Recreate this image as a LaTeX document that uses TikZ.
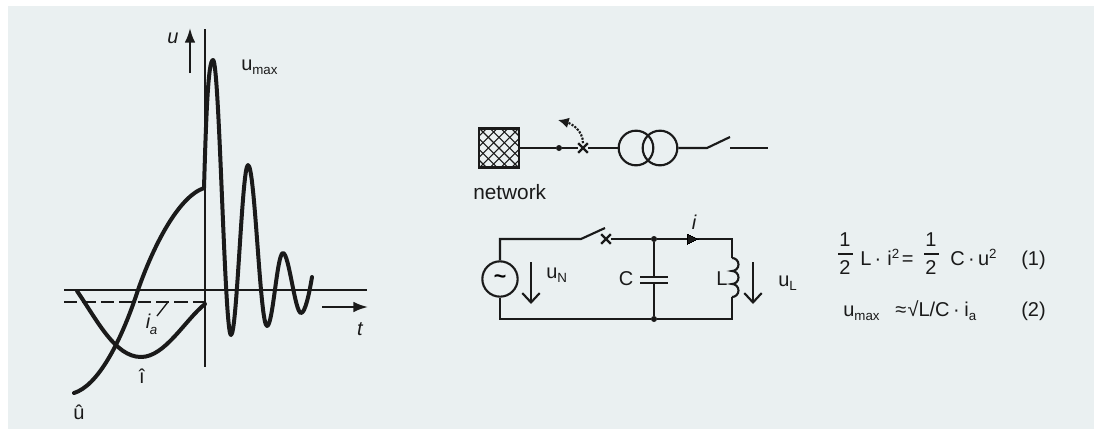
\documentclass[tikz,border=0pt]{standalone}
\usepackage{fontspec}
\setmainfont{Liberation Sans}
\usepackage{xcolor}
\usetikzlibrary{arrows.meta,shapes.misc}
\definecolor{panelbg}{HTML}{EAF0F1}
\definecolor{inkc}{HTML}{1A1A1A}
\newcommand{\subtxt}[2][-3pt]{\raisebox{#1}{\fontsize{10}{12}\selectfont #2}}
\newcommand{\suptxt}{\raisebox{5pt}{\fontsize{10}{12}\selectfont 2}}
\tikzset{wire/.style={line width=1.6pt,inkc},
  curve/.style={line width=3pt,inkc,line cap=round,line join=round},
  txt/.style={inner sep=0pt,text=inkc,font=\fontsize{15}{17}\selectfont},
  itxt/.style={inner sep=0pt,text=inkc,font=\fontsize{15}{17}\selectfont\itshape},
  dotn/.style={circle,fill=inkc,inner sep=0pt,minimum size=4.5pt},
  ring/.style={circle,draw=inkc,line width=1.6pt,inner sep=0pt,minimum size=26pt},
  hatchbox/.style={rectangle,draw=inkc,line width=1.9pt,inner sep=0pt,minimum width=30pt,minimum height=29pt,
    path picture={\foreach \k in {-64,-56,...,64} {
      \draw[inkc,line width=.8pt] ([xshift=\k pt-40pt,yshift=-40pt]path picture bounding box.center) -- ++(80pt,80pt);
      \draw[inkc,line width=.8pt] ([xshift=\k pt-40pt,yshift=40pt]path picture bounding box.center) -- ++(80pt,-80pt);}}},
  crossm/.style={cross out,draw=inkc,line width=1.7pt,inner sep=0pt,minimum size=5.5pt},
  bigarrow/.style={line width=1.6pt,inkc,-{Latex[length=11pt,width=8pt]}},
  openarrow/.style={line width=1.6pt,inkc,-{Straight Barb[length=7pt,width=13pt]}}}
\begin{document}
\begin{tikzpicture}[x=0.75pt,y=-0.75pt]
  \useasboundingbox (0,0) rectangle (1096,429);
  \fill[panelbg] (8,6) rectangle (1094,429);

  % voltage and current curves
  \draw[wire] (205,29) -- (205,367);
  \draw[wire] (64,290) -- (367,290);
  \draw[wire,dash pattern=on 10pt off 3.8pt] (64,302) -- (205,302);
  \draw[curve] (74,393) .. controls (97,386) and (120,345) .. (138,290)
    .. controls (153,247) and (178,197) .. (204,188);
  \draw[curve] (204,188) .. controls (206,120) and (208,60) .. (213,60)
    .. controls (219.5,60) and (224.5,335) .. (231,335)
    .. controls (237,335) and (242,165) .. (248,165)
    .. controls (255,165) and (260,326) .. (267,326)
    .. controls (273,326) and (277,253) .. (283,253)
    .. controls (289,253) and (295,313) .. (301,313)
    .. controls (305,313) and (309,295) .. (312,277);
  \draw[curve] (77,291) .. controls (97,320) and (115,357) .. (141,357)
    .. controls (165,357) and (185,320) .. (205,304);
  \coordinate (ulow) at (190,73);
  \coordinate (utop) at (190,28);
  \coordinate (tleft) at (322,307);
  \coordinate (tright) at (368,307);
  \draw[bigarrow] (ulow) -- (utop);
  \draw[bigarrow] (tleft) -- (tright);
  \draw[line width=1pt,inkc] (157,316) -- (168,302);
  \node[itxt,anchor=base] (ulab) at (173,43) {u};
  \node[itxt,anchor=base] (tlab) at (360,335) {t};
  \node[txt,anchor=base west] (umaxlab) at (241,70) {u\subtxt{max}};
  \node[itxt,anchor=base] (ialab) at (148,328) {i};
  \node[txt,anchor=base,font=\fontsize{10}{12}\selectfont\itshape] (iasub) at (153.5,334) {a};
  \node[txt,anchor=base] (ihat) at (142,383) {î};
  \node[txt,anchor=base] (uhat) at (79,419) {û};

  % network line
  \node[hatchbox] (net) at (499,148) {};
  \node[dotn] (tap) at (559,148) {};
  \node[crossm] (brk) at (583,148) {};
  \node[ring] (tra) at (636,148) {};
  \node[ring] (trb) at (660,148) {};
  \coordinate (swa) at (707,148);
  \coordinate (swb) at (730,137);
  \coordinate (lnb) at (730,148);
  \coordinate (lnc) at (768,148);
  \coordinate (arrtip) at (558,120);
  \draw[wire] (net) -- (tap) -- (brk) -- (tra);
  \draw[wire] (trb) -- (swa) -- (swb);
  \draw[wire] (lnb) -- (lnc);
  \draw[line width=1.6pt,inkc,densely dotted,-{Latex[length=8pt,width=8pt]}] (brk.north) to[out=90,in=-15] (arrtip);
  \node[txt,anchor=base west] (netlab) at (473,199) {\fontsize{15.6}{17}\selectfont network};

  % oscillating circuit
  \node[ring,minimum size=26.5pt] (src) at (500,279) {\fontsize{16}{17}\selectfont\bfseries\textasciitilde};
  \coordinate (tl) at (500,239);
  \coordinate (bl) at (500,319);
  \coordinate (tr) at (732,239);
  \coordinate (br) at (732,319);
  \coordinate (swc) at (581,239);
  \coordinate (swd) at (605,228);
  \node[crossm] (brkb) at (606,239) {};
  \node[dotn] (jt) at (654,239) {};
  \node[dotn] (jb) at (654,319) {};
  \coordinate (capa) at (654,277);
  \coordinate (capb) at (654,283);
  \coordinate (ltop) at (732,258);
  \coordinate (lbot) at (732,297);
  \draw[wire] (src) -- (tl) -- (swc) -- (swd);
  \draw[wire] (src) -- (bl) -- (jb) -- (br) -- (lbot);
  \draw[wire] (brkb) -- (jt) -- (tr) -- (ltop);
  \draw[wire] (jt) -- (capa);
  \draw[wire] (capb) -- (jb);
  \draw[wire] ([xshift=-10.5pt]capa) -- ([xshift=10.5pt]capa);
  \draw[wire] ([xshift=-10.5pt]capb) -- ([xshift=10.5pt]capb);
  \draw[wire] (ltop) arc[start angle=90,end angle=-90,radius=4.875pt]
    arc[start angle=90,end angle=-90,radius=4.875pt]
    arc[start angle=90,end angle=-90,radius=4.875pt];
  \draw[line width=0pt,fill=inkc] (698,239) -- (687,234) -- (687,244) -- cycle;
  \coordinate (una) at (531,262);
  \coordinate (unb) at (531,304);
  \coordinate (ula) at (753,262);
  \coordinate (ulb) at (753,304);
  \draw[openarrow] (una) -- (unb);
  \draw[openarrow] (ula) -- (ulb);
  \node[itxt,anchor=base] (ilab) at (694,229) {i};
  \node[txt,anchor=base west] (unlab) at (546,278) {u\subtxt{N}};
  \node[txt,anchor=base west] (ullab) at (778,286) {u\subtxt{L}};
  \node[txt] (clab) at (626,279) {C};
  \node[txt] (llab) at (722,279) {L};

  % energy balance
  \node[txt,anchor=base] (onea) at (845,246) {1};
  \node[txt,anchor=base] (twoa) at (845,274) {2};
  \draw[line width=1.2pt,inkc] (838,254) -- (853,254);
  \node[txt,anchor=base west] (eqa) at (860,265) {L\hspace{2.5pt}·\hspace{4.5pt}i\suptxt\hspace{2pt}=};
  \node[txt,anchor=base] (oneb) at (931,246) {1};
  \node[txt,anchor=base] (twob) at (931,274) {2};
  \draw[line width=1.2pt,inkc] (924,254) -- (939,254);
  \node[txt,anchor=base west] (eqb) at (950,265) {C\hspace{2.5pt}·\hspace{2.5pt}u\suptxt};
  \node[txt,anchor=base west] (numa) at (1021,265) {(1)};
  \node[txt,anchor=base west] (eqc) at (843,316) {u\subtxt{max}};
  \node[txt,anchor=base west] (eqd) at (895,316) {≈\hspace{1pt}√L/C\hspace{2.5pt}·\hspace{3.5pt}i\subtxt{a}};
  \node[txt,anchor=base west] (numb) at (1021,316) {(2)};
\end{tikzpicture}
\end{document}
